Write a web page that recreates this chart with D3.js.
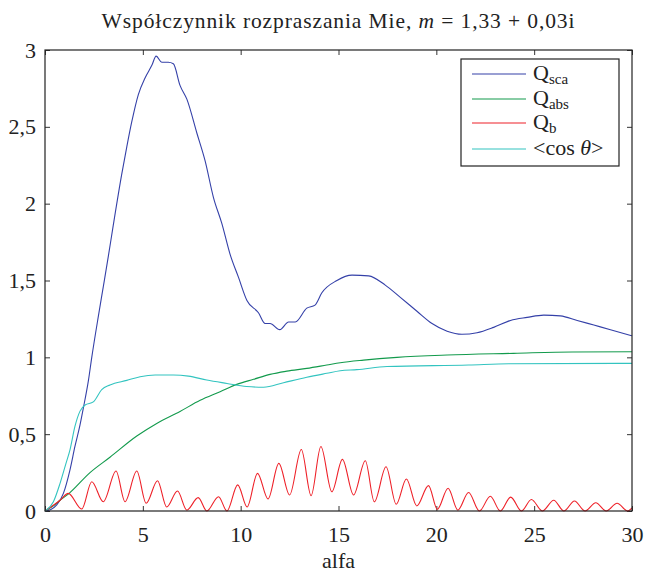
<!DOCTYPE html>
<html>
<head>
<meta charset="utf-8">
<script src="https://cdn.jsdelivr.net/npm/d3@7"></script>
<style>
  body { margin: 0; background: #fff; }
  svg text { font-family: "Liberation Serif", "DejaVu Serif", serif; fill: #222; }
</style>
</head>
<body>
<div id="chart"></div>
<script>
// chart data
const qscaAlpha = [0, 0.3, 0.6, 0.94, 1.28, 1.53, 1.79, 1.96, 2.22, 2.39, 2.73, 2.98, 3.24, 3.49, 3.92, 4.18, 4.43, 4.77, 5.12, 5.46, 5.68, 5.97, 6.3, 6.56, 6.9, 7.25, 7.76, 8.18, 8.61, 9.04, 9.46, 9.89, 10.32, 10.91, 11.25, 11.5, 12.0, 12.45, 12.79, 13.38, 13.8, 14.15, 14.92, 15.69, 16.54, 17.39, 18.16, 19.01, 19.78, 20.55, 21.31, 22.08, 22.93, 23.79, 24.64, 25.49, 26.34, 27.2, 28.05, 28.9, 30];
const qscaValues = [0, 0.01, 0.04, 0.115, 0.27, 0.42, 0.56, 0.67, 0.85, 1.0, 1.27, 1.46, 1.66, 1.86, 2.19, 2.37, 2.53, 2.71, 2.82, 2.9, 2.96, 2.92, 2.92, 2.91, 2.77, 2.68, 2.46, 2.28, 2.04, 1.87, 1.67, 1.52, 1.37, 1.29, 1.22, 1.22, 1.18, 1.23, 1.23, 1.32, 1.34, 1.42, 1.5, 1.535, 1.53, 1.47, 1.39, 1.3, 1.22, 1.17, 1.15, 1.16, 1.195, 1.24, 1.26, 1.275, 1.27, 1.24, 1.21, 1.18, 1.14];

const qabsAlpha = [0, 0.5, 0.77, 1.19, 2.3, 3.32, 4.69, 5.71, 6.9, 7.93, 8.95, 9.8, 10.66, 11.5, 12.36, 13.38, 14.4, 15.09, 16.28, 17.99, 20.55, 23.95, 26.94, 30];
const qabsValues = [0, 0.04, 0.07, 0.11, 0.25, 0.35, 0.488, 0.57, 0.648, 0.72, 0.776, 0.824, 0.857, 0.889, 0.91, 0.928, 0.95, 0.965, 0.982, 1.0, 1.015, 1.026, 1.035, 1.036];

const qbAlpha = [0, 0.77, 1.19, 1.88, 2.39, 2.98, 3.63, 4.09, 4.69, 5.17, 5.75, 6.22, 6.77, 7.25, 7.83, 8.27, 8.87, 9.3, 9.85, 10.33, 10.86, 11.4, 11.95, 12.5, 13.1, 13.6, 14.1, 14.66, 15.2, 15.77, 16.37, 16.83, 17.43, 17.95, 18.47, 19.0, 19.6, 20.05, 20.6, 21.1, 21.65, 22.2, 22.76, 23.27, 23.8, 24.35, 24.86, 25.42, 26.0, 26.52, 27.06, 27.6, 28.15, 28.68, 29.24, 29.78, 30];
const qbValues = [0, 0.07, 0.115, 0.013, 0.19, 0.06, 0.26, 0.06, 0.26, 0.05, 0.197, 0.026, 0.13, 0.006, 0.087, 0, 0.093, 0, 0.17, 0.026, 0.245, 0.078, 0.31, 0.104, 0.4, 0.1, 0.42, 0.125, 0.336, 0.104, 0.327, 0.06, 0.288, 0.044, 0.208, 0.033, 0.165, 0.011, 0.148, 0.006, 0.12, 0, 0.096, 0, 0.09, 0, 0.075, 0, 0.07, 0, 0.065, 0, 0.054, 0, 0.05, 0, 0.02];

const cosAlpha = [0, 0.43, 0.77, 1.05, 1.28, 1.53, 1.79, 2.05, 2.47, 2.9, 3.32, 4.18, 4.86, 5.63, 6.56, 7.33, 8.27, 9.3, 10.3, 11.17, 12.19, 13.38, 14.4, 15.09, 15.94, 17.48, 21.65, 23.7, 30];
const cosValues = [0, 0.06, 0.18, 0.3, 0.4, 0.55, 0.65, 0.69, 0.71, 0.79, 0.82, 0.85, 0.874, 0.885, 0.885, 0.878, 0.852, 0.83, 0.81, 0.805, 0.835, 0.87, 0.896, 0.913, 0.92, 0.94, 0.95, 0.958, 0.961];

const xTicks = [0, 5, 10, 15, 20, 25, 30];
const yTicks = [0, 0.5, 1, 1.5, 2, 2.5, 3];

// layout
const width = 645;
const height = 572;
const margin = { top: 50, left: 45, bottom: 61, right: 13 };
const tickLength = 5;

const series = [
  { alpha: qscaAlpha, values: qscaValues, color: "#3440a8", label: "Q", sub: "sca" },
  { alpha: qabsAlpha, values: qabsValues, color: "#129a4c", label: "Q", sub: "abs" },
  { alpha: qbAlpha, values: qbValues, color: "#ee2028", label: "Q", sub: "b" },
  { alpha: cosAlpha, values: cosValues, color: "#33c4c0", label: "<cos θ>", sub: null }
];

const svg = d3.select("#chart")
  .append("svg")
  .attr("width", width)
  .attr("height", height);

const x = d3.scaleLinear()
  .domain([0, 30])
  .range([margin.left, width - margin.right]);

const y = d3.scaleLinear()
  .domain([0, 3])
  .range([height - margin.bottom, margin.top]);

// comma decimal like the reference
const fmt = function(d) {
  return String(d).replace(".", ",");
};

// axes with inward ticks, mirrored on top and right
svg.append("g")
  .attr("transform", "translate(0," + y(0) + ")")
  .call(d3.axisBottom(x).tickValues(xTicks).tickSizeInner(-tickLength).tickSizeOuter(0).tickPadding(15).tickFormat(fmt))
  .call(g => g.select(".domain").remove())
  .attr("font-size", 22);

svg.append("g")
  .attr("transform", "translate(" + x(0) + ",0)")
  .call(d3.axisLeft(y).tickValues(yTicks).tickSizeInner(-tickLength).tickSizeOuter(0).tickPadding(9).tickFormat(fmt))
  .call(g => g.select(".domain").remove())
  .attr("font-size", 22);

svg.append("g")
  .attr("transform", "translate(0," + y(3) + ")")
  .call(d3.axisTop(x).tickValues(xTicks).tickSizeInner(-tickLength).tickSizeOuter(0).tickFormat(""))
  .call(g => g.select(".domain").remove());

svg.append("g")
  .attr("transform", "translate(" + x(30) + ",0)")
  .call(d3.axisRight(y).tickValues(yTicks).tickSizeInner(-tickLength).tickSizeOuter(0).tickFormat(""))
  .call(g => g.select(".domain").remove());

svg.selectAll(".tick line").attr("stroke", "#333");
svg.selectAll(".tick text").attr("fill", "#222");

// lines
const line = d3.line()
  .x(d => x(d[0]))
  .y(d => y(d[1]))
  .curve(d3.curveMonotoneX);

series.forEach(function(s) {
  svg.append("path")
    .datum(d3.zip(s.alpha, s.values))
    .attr("fill", "none")
    .attr("stroke", s.color)
    .attr("stroke-width", 1.1)
    .attr("d", line);
});

// frame
svg.append("rect")
  .attr("x", x(0))
  .attr("y", y(3))
  .attr("width", x(30) - x(0))
  .attr("height", y(0) - y(3))
  .attr("fill", "none")
  .attr("stroke", "#222")
  .attr("stroke-width", 1.2);

// title
const title = svg.append("text")
  .attr("x", (x(0) + x(30)) / 2)
  .attr("y", 28)
  .attr("text-anchor", "middle")
  .attr("font-size", 21.5)
  .attr("letter-spacing", 0.9);
title.append("tspan").text("Współczynnik rozpraszania Mie, ");
title.append("tspan").attr("font-style", "italic").text("m");
title.append("tspan").text(" = 1,33 + 0,03i");

// x label
svg.append("text")
  .attr("x", (x(0) + x(30)) / 2)
  .attr("y", 568)
  .attr("text-anchor", "middle")
  .attr("font-size", 22)
  .text("alfa");

// legend
const legend = { x: 461, y: 59, w: 158, h: 107, rowY: [74, 99, 123, 149] };

svg.append("rect")
  .attr("x", legend.x)
  .attr("y", legend.y)
  .attr("width", legend.w)
  .attr("height", legend.h)
  .attr("fill", "#fff")
  .attr("stroke", "#222")
  .attr("stroke-width", 1.2);

series.forEach(function(s, i) {
  const ly = legend.rowY[i];
  svg.append("line")
    .attr("x1", 472)
    .attr("x2", 526)
    .attr("y1", ly)
    .attr("y2", ly)
    .attr("stroke", s.color)
    .attr("stroke-width", 1.1);
  const t = svg.append("text")
    .attr("x", 533)
    .attr("y", ly + 6)
    .attr("font-size", 22);
  if (s.sub) {
    t.append("tspan").text(s.label);
    t.append("tspan").attr("dy", 4).attr("font-size", 15).text(s.sub);
  } else {
    t.append("tspan").text("<cos ");
    t.append("tspan").attr("font-style", "italic").text("θ");
    t.append("tspan").text(">");
  }
});
</script>
</body>
</html>
